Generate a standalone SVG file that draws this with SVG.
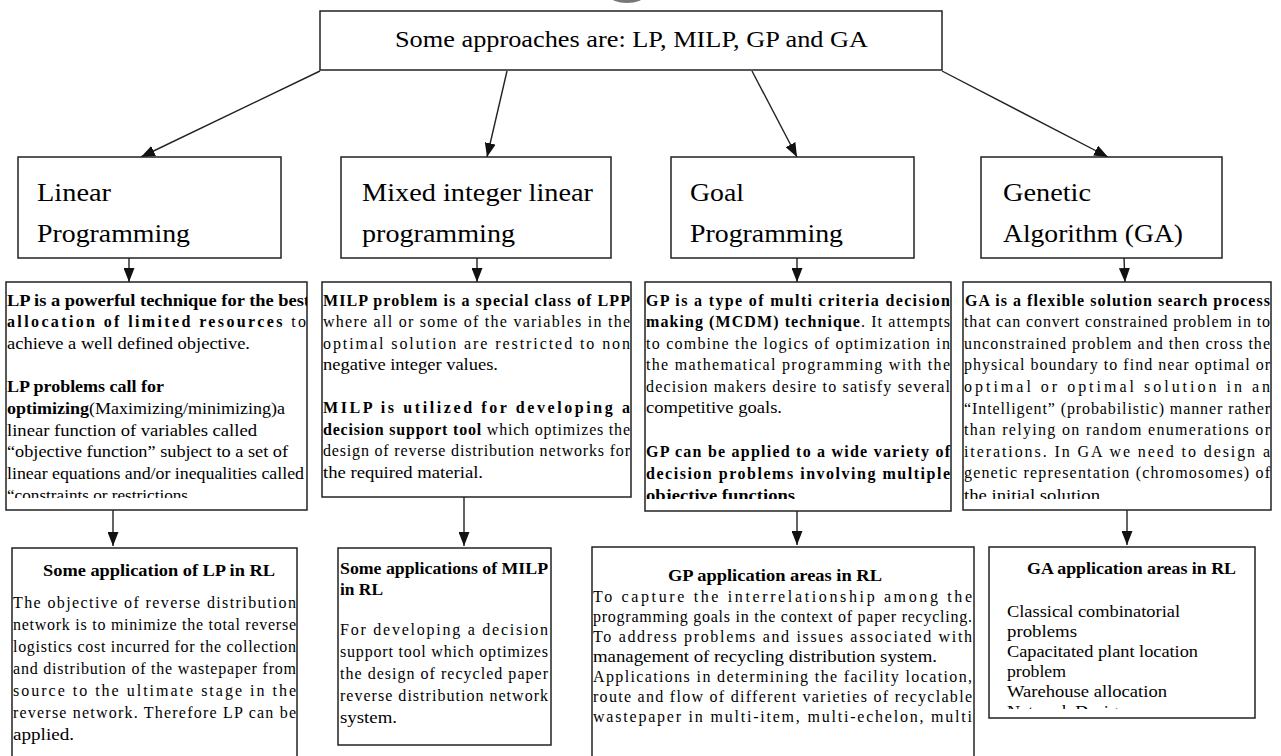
<svg xmlns="http://www.w3.org/2000/svg" width="1281" height="756" viewBox="0 0 1281 756">
<style>
.box{fill:#fff;stroke:#222;stroke-width:1.5}
.t{font-family:"Liberation Serif","Times New Roman",serif;font-size:16px;fill:#000}
.b{font-weight:bold}
.h{font-size:26px}
.ht{font-size:24px}
.conn line{stroke:#222;stroke-width:1.4;marker-end:url(#ah)}
</style>
<defs>
<marker id="ah" viewBox="0 0 14 11" markerWidth="14" markerHeight="11" refX="14" refY="5.5" orient="auto" markerUnits="userSpaceOnUse">
<path d="M0,0 L14,5.5 L0,11 z" fill="#111"/>
</marker>
<clipPath id="cLP"><rect x="6" y="282" width="301" height="216"/></clipPath>
<clipPath id="cMI"><rect x="322" y="282" width="309" height="215"/></clipPath>
<clipPath id="cGP"><rect x="645" y="282" width="306" height="217"/></clipPath>
<clipPath id="cGA"><rect x="963" y="282" width="308" height="217"/></clipPath>
<clipPath id="cGAa"><rect x="989" y="547" width="266" height="162"/></clipPath>
</defs>
<rect width="1281" height="756" fill="#fff"/>
<ellipse cx="627" cy="-4" rx="17" ry="7" fill="#777"/>

<g id="connectors" class="conn">
<line x1="320" y1="71" x2="141" y2="157"/>
<line x1="507" y1="71" x2="487" y2="157"/>
<line x1="752" y1="71" x2="797" y2="157"/>
<line x1="942" y1="71" x2="1108" y2="157"/>
<line x1="129" y1="258" x2="129" y2="282"/>
<line x1="477" y1="258" x2="477" y2="282"/>
<line x1="797" y1="258" x2="797" y2="282"/>
<line x1="1124" y1="258" x2="1125" y2="282"/>
<line x1="113" y1="510" x2="113" y2="546"/>
<line x1="464" y1="497" x2="464" y2="546"/>
<line x1="797" y1="511" x2="797" y2="545"/>
<line x1="1127" y1="510" x2="1127" y2="545"/>
</g>

<g id="root">
<rect class="box" x="320" y="11" width="622" height="59"/>
<text class="t ht" x="395" y="47" textLength="473" lengthAdjust="spacingAndGlyphs">Some approaches are: LP, MILP, GP and GA</text>
</g>

<g id="n-lp">
<rect class="box" x="18" y="157" width="263" height="101"/>
<text class="t h" x="37" y="201" textLength="74" lengthAdjust="spacingAndGlyphs">Linear</text>
<text class="t h" x="37" y="242" textLength="153" lengthAdjust="spacingAndGlyphs">Programming</text>
</g>
<g id="n-milp">
<rect class="box" x="341" y="157" width="270" height="101"/>
<text class="t h" x="362" y="201" textLength="231" lengthAdjust="spacingAndGlyphs">Mixed integer linear</text>
<text class="t h" x="362" y="242" textLength="153" lengthAdjust="spacingAndGlyphs">programming</text>
</g>
<g id="n-gp">
<rect class="box" x="671" y="157" width="243" height="101"/>
<text class="t h" x="690" y="201" textLength="54" lengthAdjust="spacingAndGlyphs">Goal</text>
<text class="t h" x="690" y="242" textLength="153" lengthAdjust="spacingAndGlyphs">Programming</text>
</g>
<g id="n-ga">
<rect class="box" x="981" y="157" width="241" height="101"/>
<text class="t h" x="1003" y="201" textLength="88" lengthAdjust="spacingAndGlyphs">Genetic</text>
<text class="t h" x="1003" y="242" textLength="180" lengthAdjust="spacingAndGlyphs">Algorithm (GA)</text>
</g>

<g id="d-lp">
<rect class="box" x="6" y="282" width="301" height="228"/>
<g clip-path="url(#cLP)">
<text class="t b" x="7" y="306" textLength="303" lengthAdjust="spacingAndGlyphs">LP is a powerful technique for the best</text>
<text class="t" x="7" y="327" textLength="299" lengthAdjust="spacing"><tspan class="b">allocation of limited resources</tspan> to</text>
<text class="t" x="7" y="349" textLength="243" lengthAdjust="spacingAndGlyphs">achieve a well defined objective.</text>
<text class="t b" x="7" y="392" textLength="157" lengthAdjust="spacingAndGlyphs">LP problems call for</text>
<text class="t" x="7" y="414" textLength="278" lengthAdjust="spacingAndGlyphs"><tspan class="b">optimizing</tspan>(Maximizing/minimizing)a</text>
<text class="t" x="7" y="436" textLength="250" lengthAdjust="spacingAndGlyphs">linear function of variables called</text>
<text class="t" x="7" y="457" textLength="281" lengthAdjust="spacingAndGlyphs">“objective function” subject to a set of</text>
<text class="t" x="7" y="479" textLength="297" lengthAdjust="spacingAndGlyphs">linear equations and/or inequalities called</text>
<text class="t" x="7" y="501" textLength="181" lengthAdjust="spacingAndGlyphs">“constraints or restrictions</text>
</g>
</g>

<g id="d-milp">
<rect class="box" x="322" y="282" width="309" height="215"/>
<g clip-path="url(#cMI)">
<text class="t b" x="323" y="306" textLength="307" lengthAdjust="spacing">MILP problem is a special class of LPP</text>
<text class="t" x="323" y="327" textLength="307" lengthAdjust="spacing">where all or some of the variables in the</text>
<text class="t" x="323" y="349" textLength="307" lengthAdjust="spacing">optimal solution are restricted to non</text>
<text class="t" x="323" y="370" textLength="175" lengthAdjust="spacingAndGlyphs">negative integer values.</text>
<text class="t b" x="323" y="413" textLength="307" lengthAdjust="spacing">MILP is utilized for developing a</text>
<text class="t" x="323" y="435" textLength="307" lengthAdjust="spacing"><tspan class="b">decision support tool</tspan> which optimizes the</text>
<text class="t" x="323" y="456" textLength="307" lengthAdjust="spacing">design of reverse distribution networks for</text>
<text class="t" x="323" y="478" textLength="160" lengthAdjust="spacingAndGlyphs">the required material.</text>
</g>
</g>

<g id="d-gp">
<rect class="box" x="645" y="282" width="306" height="229"/>
<g clip-path="url(#cGP)">
<text class="t b" x="646" y="306" textLength="304" lengthAdjust="spacing">GP is a type of multi criteria decision</text>
<text class="t" x="646" y="327" textLength="304" lengthAdjust="spacing"><tspan class="b">making (MCDM) technique</tspan>. It attempts</text>
<text class="t" x="646" y="349" textLength="304" lengthAdjust="spacing">to combine the logics of optimization in</text>
<text class="t" x="646" y="370" textLength="304" lengthAdjust="spacing">the mathematical programming with the</text>
<text class="t" x="646" y="392" textLength="304" lengthAdjust="spacing">decision makers desire to satisfy several</text>
<text class="t" x="646" y="413" textLength="136" lengthAdjust="spacingAndGlyphs">competitive goals.</text>
<text class="t b" x="646" y="457" textLength="304" lengthAdjust="spacing">GP can be applied to a wide variety of</text>
<text class="t b" x="646" y="479" textLength="304" lengthAdjust="spacing">decision problems involving multiple</text>
<text class="t b" x="646" y="501" textLength="149" lengthAdjust="spacingAndGlyphs">objective functions</text>
</g>
</g>

<g id="d-ga">
<rect class="box" x="963" y="282" width="308" height="228"/>
<g clip-path="url(#cGA)">
<text class="t b" x="965" y="306" textLength="305" lengthAdjust="spacing">GA is a flexible solution search process</text>
<text class="t" x="964" y="327" textLength="306" lengthAdjust="spacing">that can convert constrained problem in to</text>
<text class="t" x="964" y="349" textLength="306" lengthAdjust="spacing">unconstrained problem and then cross the</text>
<text class="t" x="964" y="370" textLength="306" lengthAdjust="spacing">physical boundary to find near optimal or</text>
<text class="t" x="964" y="392" textLength="306" lengthAdjust="spacing">optimal or optimal solution in an</text>
<text class="t" x="964" y="414" textLength="306" lengthAdjust="spacing">“Intelligent” (probabilistic) manner rather</text>
<text class="t" x="964" y="435" textLength="306" lengthAdjust="spacing">than relying on random enumerations or</text>
<text class="t" x="964" y="457" textLength="306" lengthAdjust="spacing">iterations. In GA we need to design a</text>
<text class="t" x="964" y="478" textLength="306" lengthAdjust="spacing">genetic representation (chromosomes) of</text>
<text class="t" x="964" y="501" textLength="136" lengthAdjust="spacingAndGlyphs">the initial solution</text>
</g>
</g>

<g id="a-lp">
<rect class="box" x="12" y="548" width="285" height="220"/>
<text class="t b" x="43" y="576" textLength="232" lengthAdjust="spacingAndGlyphs">Some application of LP in RL</text>
<text class="t" x="13" y="608" textLength="283" lengthAdjust="spacing">The objective of reverse distribution</text>
<text class="t" x="13" y="630" textLength="283" lengthAdjust="spacing">network is to minimize the total reverse</text>
<text class="t" x="13" y="652" textLength="283" lengthAdjust="spacing">logistics cost incurred for the collection</text>
<text class="t" x="13" y="674" textLength="283" lengthAdjust="spacing">and distribution of the wastepaper from</text>
<text class="t" x="13" y="696" textLength="283" lengthAdjust="spacing">source to the ultimate stage in the</text>
<text class="t" x="13" y="718" textLength="283" lengthAdjust="spacing">reverse network. Therefore LP can be</text>
<text class="t" x="13" y="740" textLength="61" lengthAdjust="spacingAndGlyphs">applied.</text>
</g>

<g id="a-milp">
<rect class="box" x="338" y="548" width="213" height="197"/>
<text class="t b" x="340" y="574" textLength="208" lengthAdjust="spacingAndGlyphs">Some applications of MILP</text>
<text class="t b" x="340" y="595" textLength="43" lengthAdjust="spacingAndGlyphs">in RL</text>
<text class="t" x="340" y="635" textLength="208" lengthAdjust="spacing">For developing a decision</text>
<text class="t" x="340" y="657" textLength="208" lengthAdjust="spacing">support tool which optimizes</text>
<text class="t" x="340" y="679" textLength="208" lengthAdjust="spacing">the design of recycled paper</text>
<text class="t" x="340" y="701" textLength="208" lengthAdjust="spacing">reverse distribution network</text>
<text class="t" x="340" y="723" textLength="57" lengthAdjust="spacingAndGlyphs">system.</text>
</g>

<g id="a-gp">
<rect class="box" x="592" y="547" width="382" height="220"/>
<text class="t b" x="668" y="581" textLength="214" lengthAdjust="spacingAndGlyphs">GP application areas in RL</text>
<text class="t" x="593" y="602" textLength="379" lengthAdjust="spacing">To capture the interrelationship among the</text>
<text class="t" x="593" y="622" textLength="379" lengthAdjust="spacing">programming goals in the context of paper recycling.</text>
<text class="t" x="593" y="642" textLength="379" lengthAdjust="spacing">To address problems and issues associated with</text>
<text class="t" x="593" y="662" textLength="344" lengthAdjust="spacingAndGlyphs">management of recycling distribution system.</text>
<text class="t" x="593" y="682" textLength="379" lengthAdjust="spacing">Applications in determining the facility location,</text>
<text class="t" x="593" y="702" textLength="379" lengthAdjust="spacing">route and flow of different varieties of recyclable</text>
<text class="t" x="593" y="722" textLength="379" lengthAdjust="spacing">wastepaper in multi-item, multi-echelon, multi</text>
</g>

<g id="a-ga">
<rect class="box" x="989" y="547" width="266" height="171"/>
<text class="t b" x="1027" y="574" textLength="209" lengthAdjust="spacingAndGlyphs">GA application areas in RL</text>
<g clip-path="url(#cGAa)">
<text class="t" x="1007" y="617" textLength="173" lengthAdjust="spacingAndGlyphs">Classical combinatorial</text>
<text class="t" x="1007" y="637" textLength="70" lengthAdjust="spacingAndGlyphs">problems</text>
<text class="t" x="1007" y="657" textLength="191" lengthAdjust="spacingAndGlyphs">Capacitated plant location</text>
<text class="t" x="1007" y="677" textLength="59" lengthAdjust="spacingAndGlyphs">problem</text>
<text class="t" x="1007" y="697" textLength="160" lengthAdjust="spacingAndGlyphs">Warehouse allocation</text>
<text class="t" x="1007" y="717" textLength="120" lengthAdjust="spacingAndGlyphs">Network Design</text>
</g>
</g>
</svg>
